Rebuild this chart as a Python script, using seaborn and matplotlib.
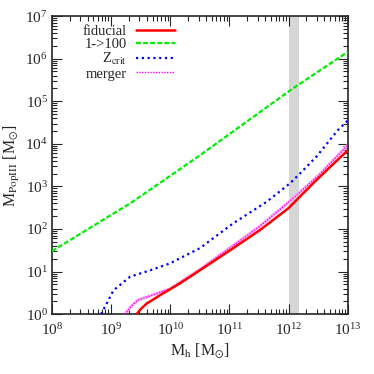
import numpy as np
import pandas as pd
import matplotlib
matplotlib.use("Agg")
import matplotlib.pyplot as plt
from matplotlib.ticker import LogLocator, NullFormatter
import seaborn as sns

# log10 values
fid_logmh = [9.43, 9.5, 9.6, 9.88, 10.16, 10.5, 11.01, 11.51, 11.99, 12.19, 12.47, 13.0]
fid_logm = [0.0, 0.12, 0.25, 0.49, 0.72, 1.03, 1.50, 1.97, 2.48, 2.76, 3.15, 3.85]

imf_logmh = [8.0, 9.0, 9.32, 10.0, 10.5, 11.0, 12.0, 12.07, 13.0]
imf_logm = [1.48, 2.33, 2.60, 3.25, 3.73, 4.23, 5.23, 5.30, 6.16]

zc_logmh = [8.83, 9.04, 9.32, 9.66, 9.99, 10.5, 11.06, 11.63, 12.02, 12.19, 12.47, 12.83, 13.0]
zc_logm = [0.0, 0.56, 0.88, 1.03, 1.19, 1.55, 2.13, 2.64, 3.07, 3.30, 3.70, 4.32, 4.55]

mrg_logmh = [9.23, 9.35, 9.45, 9.7, 10.0, 10.5, 11.0, 11.5, 12.0, 12.5, 13.0]
mrg_logm = [0.0, 0.2, 0.33, 0.45, 0.6, 1.05, 1.55, 2.05, 2.63, 3.25, 3.97]

band = [1e12, 1.5e12]

sns.set_style("ticks")
plt.rcParams["font.family"] = ["Liberation Serif", "DejaVu Serif"]
plt.rcParams["mathtext.fontset"] = "stix"
plt.rcParams["xtick.direction"] = "in"
plt.rcParams["ytick.direction"] = "in"

def to_df(lx, ly):
    return pd.DataFrame({"mh": 10.0 ** np.array(lx), "m": 10.0 ** np.array(ly)})

fig = plt.figure(figsize=(3.74, 3.74), dpi=100)
ax = fig.add_axes([0.139, 0.160, 0.791, 0.797])

ax.axvspan(band[0], band[1], color="#d6d6d6", lw=0, zorder=0)

sns.lineplot(data=to_df(fid_logmh, fid_logm), x="mh", y="m", ax=ax,
             color="#ff0000", lw=1.8, label="fiducial", zorder=4)
sns.lineplot(data=to_df(imf_logmh, imf_logm), x="mh", y="m", ax=ax,
             color="#00ee00", lw=1.6, ls=(0, (2.2, 1.0)), label="1->100", zorder=3)
sns.lineplot(data=to_df(zc_logmh, zc_logm), x="mh", y="m", ax=ax,
             color="#0000ff", lw=1.6, ls=(0, (1.0, 1.6)), label=r"Z$_{\rm crit}$", zorder=3)
# merger: pale pink band with magenta dots on top
mdf = to_df(mrg_logmh, mrg_logm)
sns.lineplot(data=mdf, x="mh", y="m", ax=ax, color="#ffb0f0", lw=2.2, zorder=2, legend=False)
sns.lineplot(data=mdf, x="mh", y="m", ax=ax, color="#ff00ff", lw=1.0,
             ls=(0, (1.0, 1.0)), label="merger", zorder=3)

ax.set_xscale("log")
ax.set_yscale("log")
ax.set_xlim(1e8, 1e13)
ax.set_ylim(1, 1e7)

ax.xaxis.set_minor_locator(LogLocator(base=10, subs=np.arange(2, 10), numticks=20))
ax.yaxis.set_minor_locator(LogLocator(base=10, subs=np.arange(2, 10), numticks=20))
ax.xaxis.set_minor_formatter(NullFormatter())
ax.yaxis.set_minor_formatter(NullFormatter())
ax.tick_params(which="both", top=True, right=True, direction="in", labelsize=11)
ax.tick_params(which="major", length=7, width=0.8, pad=3)
ax.tick_params(axis="x", which="major", pad=6)
ax.tick_params(which="minor", length=3.5, width=0.8)
for s in ax.spines.values():
    s.set_linewidth(1.2)

ax.set_xlabel(r"M$_{\rm h}$ [M$_{\odot}$]", fontsize=11.5, labelpad=2)
ax.set_ylabel(r"M$_{\rm PopIII}$ [M$_{\odot}$]", fontsize=11.5, labelpad=2)

leg = ax.legend(loc="upper left", bbox_to_anchor=(0.07, 1.005), markerfirst=False,
                frameon=False, fontsize=10.5, handlelength=2.7, handletextpad=0.6,
                labelspacing=0.0, borderaxespad=0.3)
# right-align the labels against the handles
for col in leg._legend_handle_box.get_children():
    col.align = "right"

fig.savefig("out.png", dpi=100)
